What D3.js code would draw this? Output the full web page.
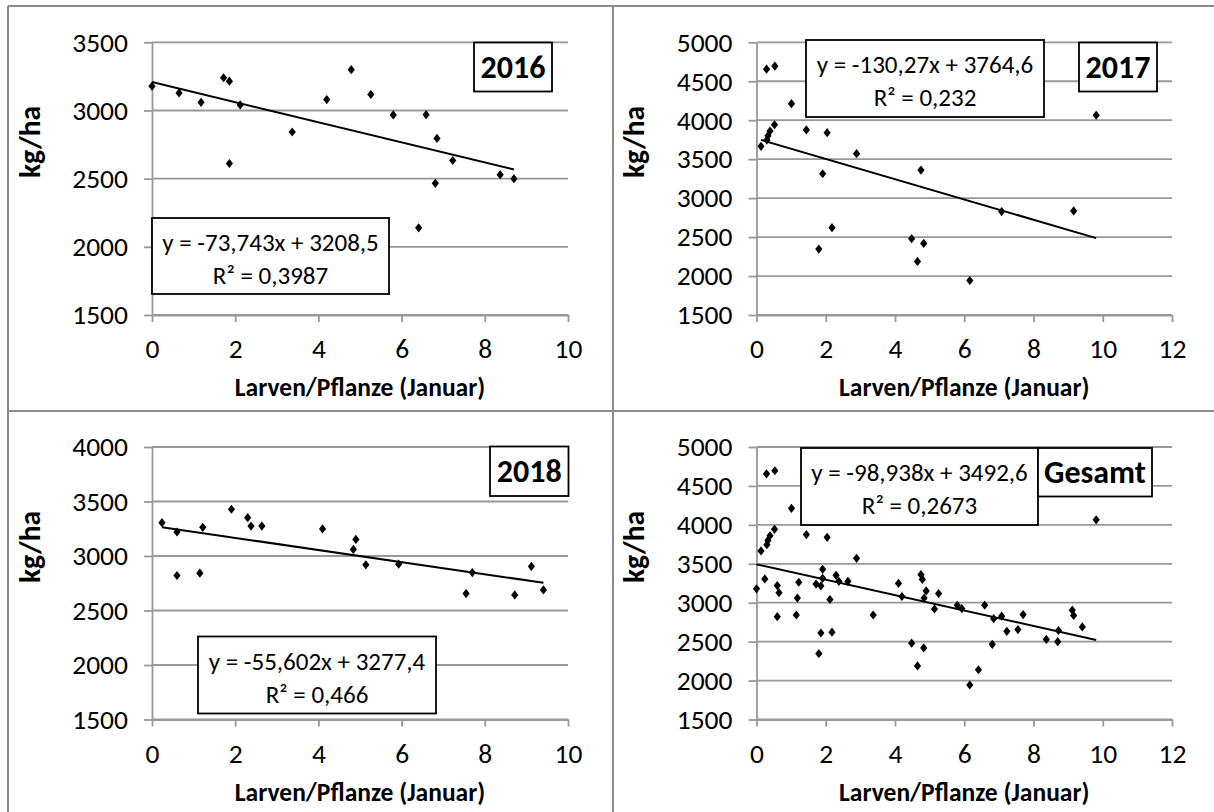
<!DOCTYPE html>
<html>
<head>
<meta charset="utf-8">
<script src="https://cdn.jsdelivr.net/npm/d3@7"></script>
<style>
  body { margin: 0; background: #fff; }
  text { font-family: Calibri, Carlito, Lato, sans-serif; fill: #000; }
</style>
</head>
<body>
<svg id="chart" width="1214" height="812"></svg>
<script>
// Larven/Pflanze (Januar) vs. Ertrag kg/ha
const x2016 = [0, 0.65, 1.18, 1.72, 1.86, 1.86, 2.12, 3.37, 4.20, 4.79, 5.26, 5.80, 6.59, 6.85, 6.41, 6.81, 7.23, 8.37, 8.70];
const y2016 = [3178, 3129, 3060, 3240, 3215, 2611, 3041, 2842, 3080, 3299, 3117, 2967, 2969, 2795, 2139, 2466, 2633, 2529, 2500];

const x2017 = [0.13, 0.29, 0.53, 0.30, 0.33, 0.39, 0.52, 1.01, 1.44, 2.04, 2.89, 1.91, 4.75, 2.18, 1.80, 4.48, 4.83, 4.65, 6.16, 7.08, 9.16, 9.81];
const y2017 = [3665, 4655, 4695, 3745, 3800, 3860, 3942, 4212, 3875, 3840, 3570, 3313, 3360, 2621, 2346, 2480, 2419, 2188, 1943, 2827, 2836, 4064];

const x2018 = [0.24, 0.60, 0.60, 1.15, 1.22, 1.91, 2.30, 2.38, 2.64, 4.10, 4.84, 4.90, 5.14, 5.93, 7.55, 7.70, 8.72, 9.12, 9.41];
const y2018 = [3306, 3220, 2821, 2842, 3263, 3429, 3352, 3275, 3275, 3248, 3060, 3152, 2919, 2925, 2655, 2848, 2643, 2904, 2689];

// Gesamt = alle Jahre zusammen
const xGesamt = x2016.concat(x2017, x2018);
const yGesamt = y2016.concat(y2017, y2018);

const titles = ["2016", "2017", "2018", "Gesamt"];
const slopes = [-73.743, -130.27, -55.602, -98.938];
const intercepts = [3208.5, 3764.6, 3277.4, 3492.6];
const eqLabels = ["y = -73,743x + 3208,5", "y = -130,27x + 3764,6", "y = -55,602x + 3277,4", "y = -98,938x + 3492,6"];
const r2Labels = ["R² = 0,3987", "R² = 0,232", "R² = 0,466", "R² = 0,2673"];
const xMaxes = [10, 12, 10, 12];
const yMins = [1500, 1500, 1500, 1500];
const yMaxes = [3500, 5000, 4000, 5000];
const xTitle = "Larven/Pflanze (Januar)";
const yTitle = "kg/ha";

const xs = [x2016, x2017, x2018, xGesamt];
const ys = [y2016, y2017, y2018, yGesamt];

// layout of the four panels (page pixels)
const layout = [
  {l: 152, r: 568, t: 42.3, b: 315, dy: 0, eq: [152, 218, 237, 76], yr: [474, 42.5, 78, 49], ax: 32.5},
  {l: 756.5, r: 1172, t: 42.3, b: 315, dy: 0, eq: [806, 40, 238, 77], yr: [1079, 42.5, 78, 49], ax: 637},
  {l: 152, r: 568, t: 447, b: 719.5, dy: 405, eq: [198, 636.5, 238, 77], yr: [490, 446.5, 78.5, 49.5], ax: 32.5},
  {l: 756.5, r: 1172, t: 447, b: 719.5, dy: 405, eq: [801, 448, 237, 77], yr: [1038, 448, 114, 48.5], ax: 637}
];

const svg = d3.select("#chart");
const grey = "#989898";

// table borders
const borders = [[8, 6, 1214, 6], [8, 6, 8, 812], [613, 6, 613, 812], [8, 411, 1214, 411]];
svg.selectAll(".border").data(borders).enter().append("line")
  .attr("x1", d => d[0]).attr("y1", d => d[1]).attr("x2", d => d[2]).attr("y2", d => d[3])
  .attr("stroke", "#8c8c8c").attr("stroke-width", 2);

const diamond = "M0,-4.6L3.6,0L0,4.6L-3.6,0Z";

layout.forEach(function (p, i) {
  const x = d3.scaleLinear().domain([0, xMaxes[i]]).range([p.l, p.r]);
  const y = d3.scaleLinear().domain([yMins[i], yMaxes[i]]).range([p.b, p.t]);
  const yTicks = d3.range(yMins[i], yMaxes[i] + 1, 500);
  const xTicks = d3.range(0, xMaxes[i] + 1, 2);
  const g = svg.append("g");

  // gridlines
  g.selectAll(".grid").data(yTicks).enter().append("line")
    .attr("x1", p.l).attr("x2", p.r)
    .attr("y1", d => y(d)).attr("y2", d => y(d))
    .attr("stroke", grey).attr("stroke-width", 1.8);

  // axes
  const yAxis = g.append("g").attr("transform", `translate(${p.l},0)`)
    .call(d3.axisLeft(y).tickValues(yTicks).tickFormat(d3.format("d"))
      .tickSize(8).tickPadding(16).tickSizeOuter(0));
  const xAxis = g.append("g").attr("transform", `translate(0,${p.b})`)
    .call(d3.axisBottom(x).tickValues(xTicks).tickFormat(d3.format("d"))
      .tickSize(7).tickPadding(16.5).tickSizeOuter(0));
  [yAxis, xAxis].forEach(function (a) {
    a.attr("font-family", null).attr("font-size", 27.5);
    a.select(".domain").attr("stroke", grey).attr("stroke-width", 1.8);
    a.selectAll(".tick line").attr("stroke", grey).attr("stroke-width", 1.8);
    a.selectAll(".tick text").attr("fill", "#000");
  });

  // axis titles
  g.append("text")
    .attr("transform", `translate(${p.ax + 7},${142 + p.dy}) rotate(-90)`)
    .attr("text-anchor", "middle").attr("font-weight", "bold").attr("font-size", 29.5)
    .text(yTitle);
  g.append("text")
    .attr("x", (p.l + p.r) / 2).attr("y", 396 + p.dy)
    .attr("text-anchor", "middle").attr("font-weight", "bold").attr("font-size", 25.5)
    .text(xTitle);

  // points
  const pts = xs[i].map((v, k) => [v, ys[i][k]]);
  g.selectAll(".pt").data(pts).enter().append("path")
    .attr("d", diamond)
    .attr("transform", d => `translate(${x(d[0])},${y(d[1])})`)
    .attr("fill", "#000");

  // linear trend from min to max x
  const ext = d3.extent(xs[i]);
  g.append("line")
    .attr("x1", x(ext[0])).attr("y1", y(slopes[i] * ext[0] + intercepts[i]))
    .attr("x2", x(ext[1])).attr("y2", y(slopes[i] * ext[1] + intercepts[i]))
    .attr("stroke", "#000").attr("stroke-width", 2);

  // equation box
  const e = p.eq;
  g.append("rect").attr("x", e[0]).attr("y", e[1]).attr("width", e[2]).attr("height", e[3])
    .attr("fill", "#fff").attr("stroke", "#000").attr("stroke-width", 1.8);
  g.append("text").attr("x", e[0] + e[2] / 2).attr("y", e[1] + 33)
    .attr("text-anchor", "middle").attr("font-size", 25).text(eqLabels[i]);
  g.append("text").attr("x", e[0] + e[2] / 2).attr("y", e[1] + 66)
    .attr("text-anchor", "middle").attr("font-size", 25).text(r2Labels[i]);

  // year box
  const b = p.yr;
  g.append("rect").attr("x", b[0]).attr("y", b[1]).attr("width", b[2]).attr("height", b[3])
    .attr("fill", "#fff").attr("stroke", "#000").attr("stroke-width", 1.8);
  g.append("text").attr("x", b[0] + b[2] / 2).attr("y", b[1] + b[3] / 2 + 10.5)
    .attr("text-anchor", "middle").attr("font-weight", "bold").attr("font-size", 32)
    .text(titles[i]);
});
</script>
</body>
</html>
